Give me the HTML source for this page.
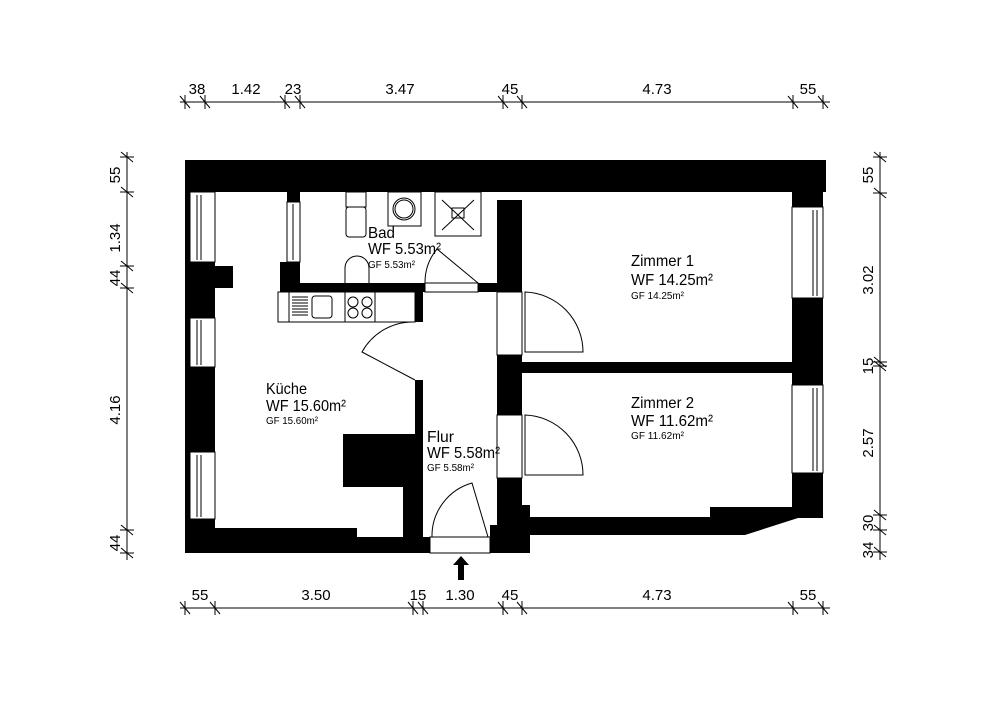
<!DOCTYPE html>
<html><head><meta charset="utf-8"><style>
body{margin:0;background:#fff}
svg text{font-family:"Liberation Sans",sans-serif;fill:#000}
</style></head><body>
<svg width="1000" height="706" viewBox="0 0 1000 706" xmlns="http://www.w3.org/2000/svg">
<g stroke="#000" stroke-width="1" fill="none">
<line x1="180" y1="102" x2="830" y2="102"/>
<path d="M180 96l10 12M185 95v14M200 96l10 12M205 95v14M280 96l10 12M285 95v14M295 96l10 12M300 95v14M498 96l10 12M503 95v14M517 96l10 12M522 95v14M788 96l10 12M793 95v14M818 96l10 12M823 95v14"/>
<line x1="180" y1="608" x2="830" y2="608"/>
<path d="M180 602l10 12M185 601v14M210 602l10 12M215 601v14M408 602l10 12M413 601v14M418 602l10 12M423 601v14M498 602l10 12M503 601v14M517 602l10 12M522 601v14M788 602l10 12M793 601v14M818 602l10 12M823 601v14"/>
<line x1="127" y1="152" x2="127" y2="560"/>
<path d="M121 152l12 10M120 157h14M121 187l12 10M120 192h14M121 261l12 10M120 266h14M121 283l12 10M120 288h14M121 525l12 10M120 530h14M121 548l12 10M120 553h14"/>
<line x1="880" y1="152" x2="880" y2="560"/>
<path d="M874 152l12 10M873 157h14M874 188l12 10M873 193h14M874 357l12 10M873 362h14M874 361l12 10M873 366h14M874 510l12 10M873 515h14M874 525l12 10M873 530h14M874 547l12 10M873 552h14"/>
</g>
<g font-size="15">
<text x="197" y="94" text-anchor="middle">38</text>
<text x="246" y="94" text-anchor="middle">1.42</text>
<text x="293" y="94" text-anchor="middle">23</text>
<text x="400" y="94" text-anchor="middle">3.47</text>
<text x="510" y="94" text-anchor="middle">45</text>
<text x="657" y="94" text-anchor="middle">4.73</text>
<text x="808" y="94" text-anchor="middle">55</text>
<text x="200" y="600" text-anchor="middle">55</text>
<text x="316" y="600" text-anchor="middle">3.50</text>
<text x="418" y="600" text-anchor="middle">15</text>
<text x="460" y="600" text-anchor="middle">1.30</text>
<text x="510" y="600" text-anchor="middle">45</text>
<text x="657" y="600" text-anchor="middle">4.73</text>
<text x="808" y="600" text-anchor="middle">55</text>
<text transform="translate(120,175) rotate(-90)" text-anchor="middle">55</text>
<text transform="translate(120,238) rotate(-90)" text-anchor="middle">1.34</text>
<text transform="translate(120,278) rotate(-90)" text-anchor="middle">44</text>
<text transform="translate(120,410) rotate(-90)" text-anchor="middle">4.16</text>
<text transform="translate(120,543) rotate(-90)" text-anchor="middle">44</text>
<text transform="translate(873,175) rotate(-90)" text-anchor="middle">55</text>
<text transform="translate(873,280) rotate(-90)" text-anchor="middle">3.02</text>
<text transform="translate(873,366) rotate(-90)" text-anchor="middle">15</text>
<text transform="translate(873,443) rotate(-90)" text-anchor="middle">2.57</text>
<text transform="translate(873,523) rotate(-90)" text-anchor="middle">30</text>
<text transform="translate(873,550) rotate(-90)" text-anchor="middle">34</text>
</g>
<g fill="#000">
<rect x="185" y="160" width="641" height="32"/>
<rect x="185" y="192" width="5" height="345"/>
<rect x="185" y="262" width="30" height="56"/><rect x="215" y="266" width="18" height="22"/>
<rect x="185" y="367" width="30" height="85"/>
<rect x="185" y="519" width="30" height="20"/>
<rect x="185" y="528" width="172" height="10"/>
<rect x="185" y="537" width="245" height="16"/>
<rect x="490" y="525" width="40" height="28"/>
<path d="M497 517H823V510L745 535H497Z"/>
<rect x="792" y="192" width="31" height="15"/>
<rect x="792" y="298" width="31" height="64"/>
<rect x="792" y="373" width="31" height="12"/>
<rect x="792" y="473" width="31" height="45"/>
<rect x="522" y="362" width="301" height="11"/>
<rect x="497" y="200" width="25" height="92"/>
<rect x="497" y="355" width="25" height="60"/>
<rect x="497" y="478" width="25" height="50"/>
<rect x="520" y="505" width="10" height="15"/>
<rect x="280" y="262" width="20" height="21"/>
<rect x="287" y="192" width="13" height="10"/>
<rect x="280" y="283" width="145" height="9"/>
<rect x="478" y="283" width="44" height="9"/>
<rect x="415" y="292" width="8" height="30"/>
<rect x="415" y="380" width="8" height="157"/>
<rect x="343" y="434" width="72" height="53"/>
<rect x="403" y="487" width="20" height="50"/>
<rect x="710" y="507" width="83" height="10"/>
</g>
<g stroke="#000" fill="none" stroke-width="1">
<rect x="190" y="192" width="25" height="70"/><line x1="197" y1="195" x2="197" y2="260"/><line x1="201" y1="195" x2="201" y2="260"/>
<rect x="190" y="318" width="25" height="49"/><line x1="197" y1="320" x2="197" y2="365"/><line x1="201" y1="320" x2="201" y2="365"/>
<rect x="190" y="452" width="25" height="67"/><line x1="197" y1="455" x2="197" y2="517"/><line x1="201" y1="455" x2="201" y2="517"/>
<rect x="287" y="202" width="13" height="60"/><line x1="293" y1="204" x2="293" y2="260"/>
<rect x="792" y="207" width="31" height="91"/><line x1="813" y1="210" x2="813" y2="296"/><line x1="817" y1="210" x2="817" y2="296"/>
<rect x="792" y="385" width="31" height="88"/><line x1="813" y1="388" x2="813" y2="471"/><line x1="817" y1="388" x2="817" y2="471"/>
<rect x="497" y="292" width="25" height="63"/>
<path d="M525 292 A60 60 0 0 1 583 352 H525 Z"/>
<rect x="497" y="415" width="25" height="63"/>
<path d="M525 415 A60 60 0 0 1 583 475 H525 Z"/>
<rect x="425" y="283" width="53" height="9"/>
<path d="M425 283 A53 53 0 0 1 437 249 L478 283"/>
<path d="M415 322 A58 58 0 0 0 362 352 L415 380"/>
<rect x="430" y="537" width="60" height="16"/>
<path d="M432 537 A55 55 0 0 1 472 483 L488 537"/>
<rect x="278" y="292" width="137" height="30"/>
<line x1="289" y1="292" x2="289" y2="322"/><line x1="345" y1="292" x2="345" y2="322"/><line x1="375" y1="292" x2="375" y2="322"/>
<path d="M292 297h16M292 300h16M292 303h16M292 306h16M292 309h16M292 312h16M292 315h16"/>
<rect x="312" y="296" width="20" height="22" rx="3"/>
<circle cx="353" cy="302" r="5"/><circle cx="367" cy="302" r="5"/><circle cx="353" cy="313" r="5"/><circle cx="367" cy="313" r="5"/>
<rect x="346" y="192" width="20" height="15"/><rect x="346" y="207" width="20" height="30" rx="3"/>
<rect x="388" y="192" width="33" height="34"/><circle cx="404" cy="209" r="11"/><circle cx="404" cy="209" r="9"/>
<rect x="435" y="192" width="46" height="44"/>
<path d="M442 200L474 230M474 200L442 230"/><rect x="452" y="208" width="12" height="10"/>
<path d="M345 283V268A12 12 0 0 1 369 268V283"/>
</g>
<path d="M458 580V565h-5l8-9 8 9h-5v15z" fill="#000"/>
<g lengthAdjust="spacingAndGlyphs">
<text x="368" y="238" font-size="16" textLength="27" lengthAdjust="spacingAndGlyphs">Bad</text>
<text x="368" y="254" font-size="16" textLength="73" lengthAdjust="spacingAndGlyphs">WF 5.53m²</text>
<text x="368" y="268" font-size="10" textLength="47" lengthAdjust="spacingAndGlyphs">GF 5.53m²</text>
<text x="631" y="266" font-size="16" textLength="63" lengthAdjust="spacingAndGlyphs">Zimmer 1</text>
<text x="631" y="285" font-size="16" textLength="82" lengthAdjust="spacingAndGlyphs">WF 14.25m²</text>
<text x="631" y="299" font-size="10" textLength="53" lengthAdjust="spacingAndGlyphs">GF 14.25m²</text>
<text x="631" y="408" font-size="16" textLength="63" lengthAdjust="spacingAndGlyphs">Zimmer 2</text>
<text x="631" y="426" font-size="16" textLength="82" lengthAdjust="spacingAndGlyphs">WF 11.62m²</text>
<text x="631" y="439" font-size="10" textLength="53" lengthAdjust="spacingAndGlyphs">GF 11.62m²</text>
<text x="266" y="394" font-size="16" textLength="41" lengthAdjust="spacingAndGlyphs">Küche</text>
<text x="266" y="411" font-size="16" textLength="80" lengthAdjust="spacingAndGlyphs">WF 15.60m²</text>
<text x="266" y="424" font-size="10" textLength="52" lengthAdjust="spacingAndGlyphs">GF 15.60m²</text>
<text x="427" y="442" font-size="16" textLength="27" lengthAdjust="spacingAndGlyphs">Flur</text>
<text x="427" y="458" font-size="16" textLength="73" lengthAdjust="spacingAndGlyphs">WF 5.58m²</text>
<text x="427" y="471" font-size="10" textLength="47" lengthAdjust="spacingAndGlyphs">GF 5.58m²</text>
</g>
</svg>
</body></html>
